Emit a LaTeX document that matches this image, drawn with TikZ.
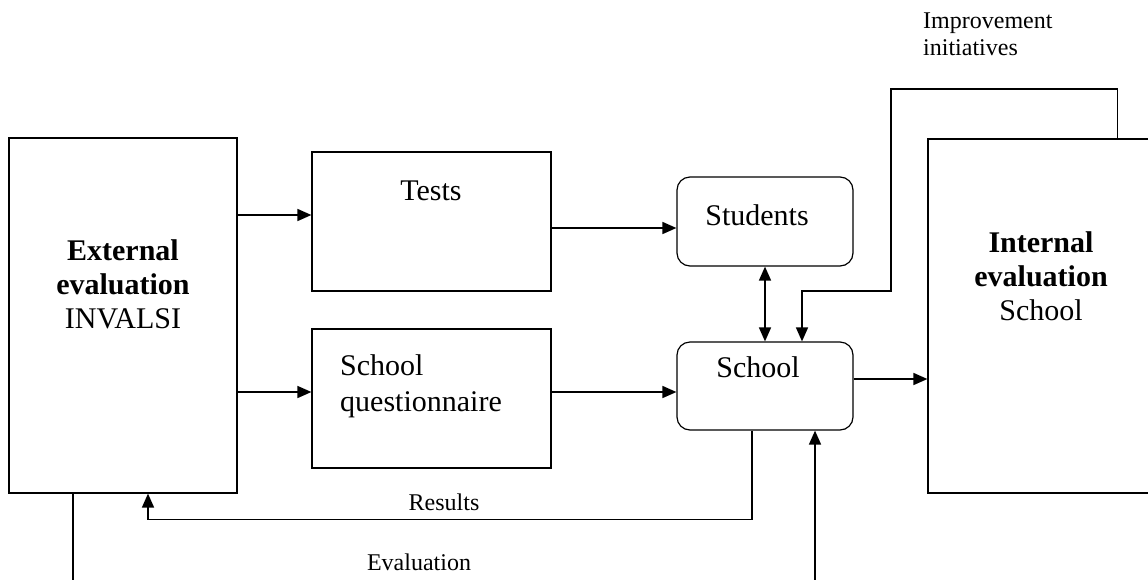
\documentclass[tikz,border=0pt]{standalone}
\usepackage{fontspec}
\setmainfont{Liberation Serif}
\usetikzlibrary{arrows.meta,positioning}
\tikzset{
  box/.style={draw, line width=1.2pt, inner sep=0pt},
  rbox/.style={box, rounded corners=13pt},
  big/.style={font=\fontsize{30}{34}\selectfont, inner sep=0pt},
  small/.style={font=\fontsize{24}{27}\selectfont, inner sep=0pt},
  conn/.style={line width=1.6pt, -{Triangle[length=14pt,width=12pt]}},
  dconn/.style={line width=1.6pt, {Triangle[length=14pt,width=12pt]}-{Triangle[length=14pt,width=12pt]}},
}
\begin{document}
\begin{tikzpicture}[x=1pt,y=-1pt]
\useasboundingbox (0,0) rectangle (1148,579);
% boxes
\node[box, minimum width=228, minimum height=355] at (123,315.5) (ext) {};
\node[box, minimum width=226, minimum height=354] at (1041,316) (int) {};
\node[box, minimum width=239, minimum height=139] at (431.5,221.5) (tests) {};
\node[box, minimum width=239, minimum height=139] at (431.5,398.5) (quest) {};
\node[rbox, minimum width=176, minimum height=89] at (765,221.5) (students) {};
\node[rbox, minimum width=176, minimum height=88] at (765,386) (school) {};
% texts
\node[big, align=center, anchor=base] at (123,328) (exttext) {\textbf{External}\\\textbf{evaluation}\\INVALSI};
\node[big, align=center, anchor=base] at (1041,320) (inttext) {\textbf{Internal}\\\textbf{evaluation}\\School};
\node[big, anchor=base] at (431,200) (teststext) {Tests};
\node[font=\fontsize{30}{36}\selectfont, inner sep=0pt, align=left, anchor=base west] at (340,411) (questtext) {School\\questionnaire};
\node[big, anchor=base] at (757,225) (studtext) {Students};
\node[big, anchor=base] at (758,377) (schooltext) {School};
\node[small, align=left, anchor=base west] at (923,55) (improve) {Improvement\\initiatives};
\node[small, anchor=base] at (444,510) (results) {Results};
\node[small, anchor=base] at (419,570) (evaluation) {Evaluation};
% connectors
\draw[conn] ([yshift=6.5pt]tests.west -| ext.east) -- ([yshift=6.5pt]tests.west);
\draw[conn] ([yshift=6.5pt]quest.west -| ext.east) -- ([yshift=6.5pt]quest.west);
\draw[conn] ([yshift=-6.5pt]tests.east) -- ([yshift=-6.5pt]students.west);
\draw[conn] ([yshift=6.5pt]quest.east) -- ([yshift=6.5pt]quest.east -| school.west);
\draw[conn] ([yshift=7pt]school.east) -- ([yshift=7pt]school.east -| int.west);
\draw[dconn] (students.south) -- (school.north);
\draw[conn] ([xshift=-37pt]int.north east) |- (891,89) |- (802,291) -- ([xshift=37pt]school.north);
\draw[conn] ([xshift=-13pt]school.south) -- ++(0,89) -| ([xshift=25pt]ext.south);
\draw[conn] ([xshift=-50pt]ext.south) -- ++(0,110) -| ([xshift=50pt]school.south);
\end{tikzpicture}
\end{document}
